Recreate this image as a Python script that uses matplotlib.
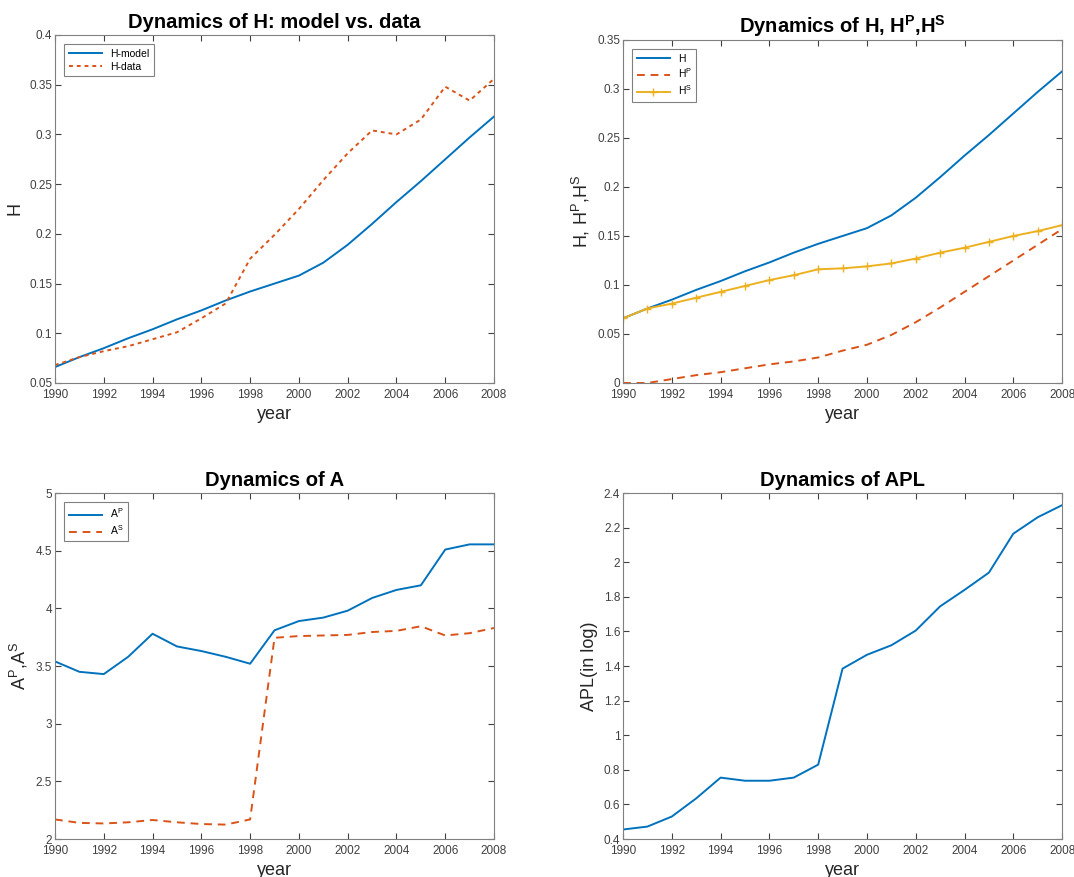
import matplotlib
matplotlib.use("Agg")
import matplotlib.pyplot as plt
from matplotlib.ticker import FormatStrFormatter, MultipleLocator

plt.rcParams['font.family'] = ['Liberation Sans', 'DejaVu Sans']
plt.rcParams['mathtext.default'] = 'regular'

# data
years = list(range(1990, 2009))

h_model = [0.066, 0.076, 0.085, 0.095, 0.104, 0.114, 0.123, 0.133, 0.142, 0.150,
           0.158, 0.171, 0.189, 0.210, 0.232, 0.253, 0.275, 0.297, 0.318]
h_data = [0.068, 0.076, 0.082, 0.087, 0.094, 0.101, 0.115, 0.130, 0.175, 0.199,
          0.225, 0.254, 0.281, 0.304, 0.300, 0.315, 0.348, 0.334, 0.356]

h_p = [0.0, 0.0, 0.004, 0.008, 0.011, 0.015, 0.019, 0.022, 0.026, 0.033,
       0.039, 0.049, 0.062, 0.077, 0.093, 0.109, 0.125, 0.141, 0.157]
h_s = [0.066, 0.076, 0.081, 0.087, 0.093, 0.099, 0.105, 0.110, 0.116, 0.117,
       0.119, 0.122, 0.127, 0.133, 0.138, 0.144, 0.150, 0.155, 0.161]

a_p = [3.54, 3.45, 3.43, 3.58, 3.78, 3.67, 3.63, 3.58, 3.52, 3.81,
       3.89, 3.92, 3.98, 4.09, 4.16, 4.20, 4.51, 4.555, 4.555]
a_s = [2.17, 2.14, 2.135, 2.145, 2.165, 2.145, 2.13, 2.125, 2.17, 3.745,
       3.76, 3.765, 3.77, 3.795, 3.805, 3.845, 3.765, 3.785, 3.83]

apl = [0.455, 0.472, 0.53, 0.635, 0.755, 0.737, 0.737, 0.755, 0.83, 1.385,
       1.465, 1.52, 1.605, 1.745, 1.84, 1.94, 2.165, 2.26, 2.33]

blue = '#0072BD'
orange = '#D95319'
yellow = '#EDB120'


def style_axes(ax, ylo, yhi, ystep):
    # matlab-ish box with inward ticks on all sides
    ax.set_xlim(1990, 2008)
    ax.set_ylim(ylo, yhi)
    ax.xaxis.set_major_locator(MultipleLocator(2))
    ax.yaxis.set_major_locator(MultipleLocator(ystep))
    ax.yaxis.set_major_formatter(FormatStrFormatter('%g'))
    ax.tick_params(direction='in', top=True, right=True, length=4,
                   labelsize=8.5, colors='#404040')
    ax.tick_params(axis='x', pad=4)
    ax.tick_params(axis='y', pad=2)
    for sp in ax.spines.values():
        sp.set_color('#808080')
        sp.set_linewidth(0.8)
    ax.set_xlabel('year', fontsize=13, color='#262626', labelpad=4)


def small_legend(ax):
    leg = ax.legend(loc='upper left', fontsize=7.5, fancybox=False, framealpha=1,
                    edgecolor='#808080', handlelength=3.2, borderpad=0.4,
                    labelspacing=0.3, borderaxespad=0.9)
    leg.get_frame().set_linewidth(0.8)


fig = plt.figure(figsize=(10.74, 8.77), dpi=100)

ax1 = fig.add_axes([0.0512, 0.5633, 0.4088, 0.3968])
ax1.plot(years, h_model, color=blue, lw=1.4, label='H-model')
ax1.plot(years, h_data, color=orange, lw=1.4, ls=(0, (2, 2)), label='H-data')
style_axes(ax1, 0.05, 0.4, 0.05)
ax1.set_ylabel('H', fontsize=13, color='#262626')
ax1.set_title('Dynamics of H: model vs. data', fontsize=14.5, fontweight='bold', pad=5)
small_legend(ax1)

ax2 = fig.add_axes([0.5801, 0.5633, 0.4088, 0.3911])
ax2.plot(years, h_model, color=blue, lw=1.4, label='H')
ax2.plot(years, h_p, color=orange, lw=1.4, ls=(0, (4, 3)), label='H$^P$')
ax2.plot(years, h_s, color=yellow, lw=1.4, marker='+', ms=6, mew=1.0, label='H$^S$')
style_axes(ax2, 0, 0.35, 0.05)
ax2.set_ylabel('H, H$^P$,H$^S$', fontsize=13, color='#262626')
ax2.set_title('Dynamics of H, H$^P$,H$^S$', fontsize=14.5, fontweight='bold', pad=5)
small_legend(ax2)

ax3 = fig.add_axes([0.0512, 0.0433, 0.4088, 0.3945])
ax3.plot(years, a_p, color=blue, lw=1.4, label='A$^P$')
ax3.plot(years, a_s, color=orange, lw=1.4, ls=(0, (4, 3)), label='A$^S$')
style_axes(ax3, 2, 5, 0.5)
ax3.set_ylabel('A$^P$,A$^S$', fontsize=13, color='#262626')
ax3.set_title('Dynamics of A', fontsize=14.5, fontweight='bold', pad=5)
small_legend(ax3)

ax4 = fig.add_axes([0.5801, 0.0433, 0.4088, 0.3945])
ax4.plot(years, apl, color=blue, lw=1.4)
style_axes(ax4, 0.4, 2.4, 0.2)
ax4.set_ylabel('APL(in log)', fontsize=13, color='#262626')
ax4.set_title('Dynamics of APL', fontsize=14.5, fontweight='bold', pad=5)

fig.savefig('out.png', dpi=100)
